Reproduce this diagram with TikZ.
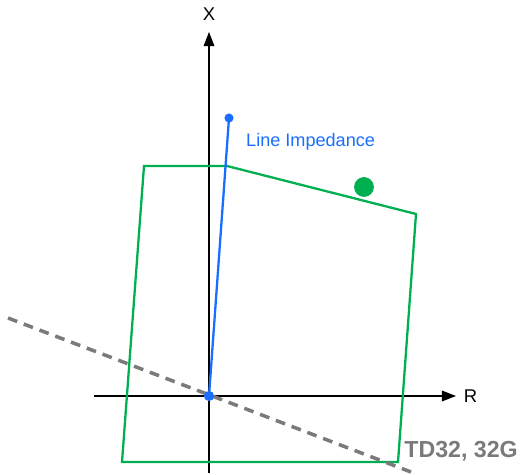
\documentclass[tikz,border=0pt]{standalone}
\usepackage{fontspec}
\setmainfont{Liberation Sans}
\usetikzlibrary{arrows.meta,positioning}
\definecolor{zoneg}{HTML}{00B050}
\definecolor{impb}{HTML}{1A6EFF}
\definecolor{tdgray}{HTML}{7A7A7A}

\begin{document}
\begin{tikzpicture}[
        x=0.02cm, y=-0.02cm,
        axis/.style={draw=black, line width=0.85pt},
        axtip/.style={-{Triangle[length=8pt,width=6pt]}},
        axlbl/.style={font=\fontsize{10.5}{12}\selectfont},
        zone/.style={draw=zoneg, line width=1.3pt, line join=miter},
        impl/.style={draw=impb, line width=1.3pt},
        tdl/.style={draw=tdgray, line width=2pt, dash pattern=on 5.6pt off 4pt},
        dot/.style={circle, fill=impb, inner sep=0pt, minimum size=#1}
    ]
    \useasboundingbox (0,0) rectangle (523,475);

    % axes
    \coordinate (rmin) at (94,396);
    \coordinate (rmax) at (456,396);
    \coordinate (xmin) at (209,473);
    \coordinate (xmax) at (209,32);
    \draw[axis, axtip] (rmin) -- (rmax);
    \draw[axis, axtip] (xmin) -- (xmax);
    \node[axlbl, right=1pt of rmax] (rlbl) {R};
    \node[axlbl, above=3pt of xmax] (xlbl) {X};

    % zone
    \coordinate (zc1) at (144,166);
    \coordinate (zc2) at (227,166);
    \coordinate (zc3) at (416,214);
    \coordinate (zc4) at (398,462);
    \coordinate (zc5) at (122,462);
    \draw[zone] (zc1) -- (zc2) -- (zc3) -- (zc4) -- (zc5) -- cycle;

    % directional line
    \coordinate (tda) at (8,318);
    \coordinate (tdb) at (411,472);
    \draw[tdl] (tda) -- (tdb);

    % line impedance
    \node[dot=5.8pt] (orig) at (209,396) {};
    \node[dot=5.2pt] (zl) at (229,118) {};
    \draw[impl] (orig.center) -- (zl.center);
    \node[text=impb, font=\fontsize{10.3}{12}\selectfont, anchor=west] (zllbl) at (240,142) {Line Impedance};

    % fault point
    \node[circle, fill=zoneg, inner sep=0pt, minimum size=11.3pt] (flt) at (364,187) {};

    \node[text=tdgray, font=\fontsize{13.2}{15}\selectfont\bfseries, anchor=east] (tdlbl) at (524,451) {TD32, 32G};
\end{tikzpicture}
\end{document}
